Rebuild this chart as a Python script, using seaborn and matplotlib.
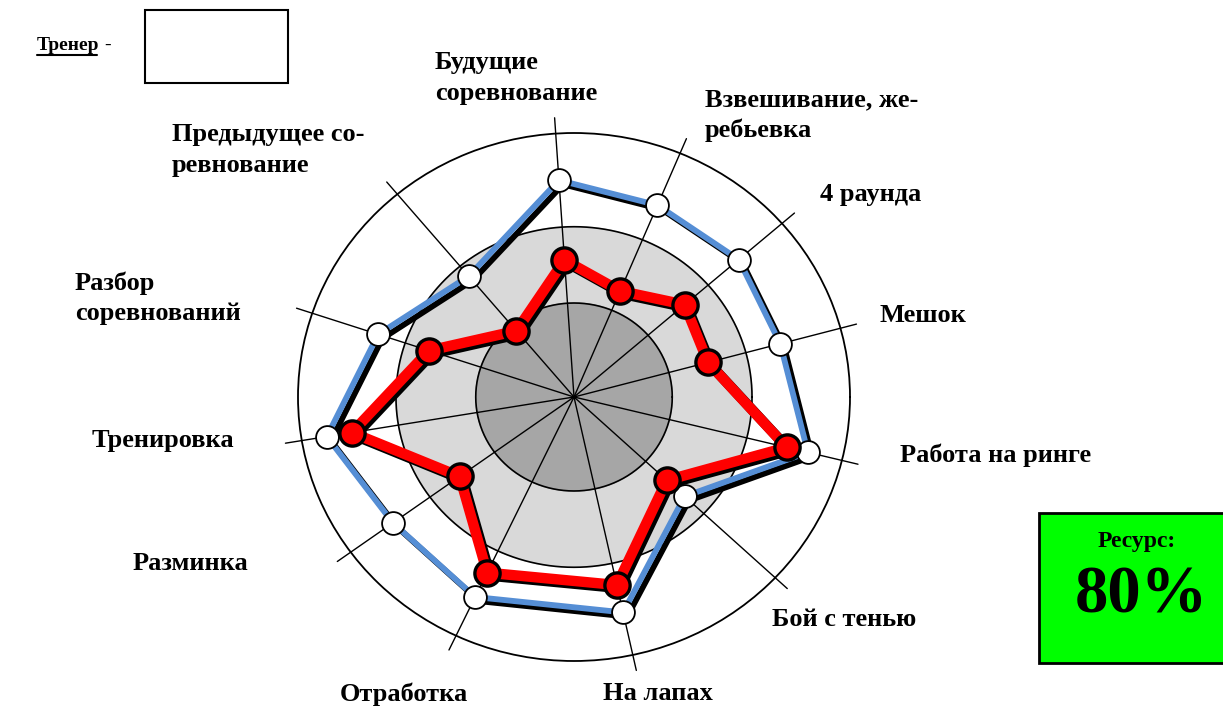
import numpy as np
import pandas as pd
import matplotlib
matplotlib.use("Agg")
import matplotlib.pyplot as plt
import matplotlib.patheffects as pe
from matplotlib.patches import Rectangle
from matplotlib.lines import Line2D
import seaborn as sns

# =========================
# DATA
# =========================
categories = ["Будущие\nсоревнование", "Взвешивание, же-\nребьевка", "4 раунда", "Мешок",
              "Работа на ринге", "Бой с тенью", "На лапах", "Отработка", "Разминка",
              "Тренировка", "Разбор\nсоревнований", "Предыдущее со-\nревнование"]
spoke_deg = [93.8, 67.4, 41.1, 15.1, -13.9, -43.2, -77.7, -115.3, -144.0, -170.5, 161.5, 129.8]
plan = [0.823, 0.787, 0.792, 0.774, 0.873, 0.55, 0.835, 0.838, 0.811, 0.908, 0.748, 0.596]
fact = [0.52, 0.435, 0.532, 0.503, 0.794, 0.461, 0.729, 0.736, 0.512, 0.816, 0.554, 0.326]
inner_ring = 0.356
middle_ring = 0.645
resource = "80%"

# label anchor (left x, vertical centre y) in pixels
label_pos = [(435, 78), (705, 115), (820, 195), (880, 315), (900, 455), (772, 620),
             (603, 694), (340, 694), (133, 563), (92, 440), (75, 298), (172, 150)]

sns.set_theme(style="white")
plt.rcParams['font.family'] = ['Liberation Serif', 'DejaVu Serif']
plt.rcParams['text.color'] = 'black'

W, H = 1223, 706
fig = plt.figure(figsize=(W / 100, H / 100), dpi=100)
cx, cy, rx, ry = 574, 397, 276, 264
ax = fig.add_axes([(cx - rx) / W, 1 - (cy + ry) / H, 2 * rx / W, 2 * ry / H], projection='polar')
ax.set_aspect('auto')

theta = np.deg2rad(spoke_deg)
full = np.linspace(0, 2 * np.pi, 361)

# rings
ax.fill(full, np.full_like(full, middle_ring), color='#d9d9d9', zorder=1)
ax.plot(full, np.full_like(full, middle_ring), color='black', lw=1.2, zorder=1.1)
ax.fill(full, np.full_like(full, inner_ring), color='#a6a6a6', zorder=1.2)
ax.plot(full, np.full_like(full, inner_ring), color='black', lw=1.2, zorder=1.3)

# spokes
for t in theta:
    ax.plot([t, t], [0, 1.06], color='black', lw=1.0, zorder=2, clip_on=False)

df = pd.DataFrame({"theta": np.r_[theta, theta[0]],
                   "plan": np.r_[plan, plan[0]],
                   "fact": np.r_[fact, fact[0]]})

shadow = [pe.SimpleLineShadow(offset=(3, -3), shadow_color='black', alpha=1, rho=1), pe.Normal()]
sns.lineplot(data=df, x="theta", y="plan", sort=False, estimator=None, color='#558ed5',
             lw=4.2, path_effects=shadow, ax=ax, zorder=3)
sns.scatterplot(data=df.iloc[:-1], x="theta", y="plan", s=270, color='white',
                edgecolor='black', linewidth=1.3, ax=ax, zorder=4, clip_on=False)

shadow_r = [pe.SimpleLineShadow(offset=(2.2, -2.2), shadow_color='black', alpha=1, rho=1), pe.Normal()]
sns.lineplot(data=df, x="theta", y="fact", sort=False, estimator=None, color='#ff0000',
             lw=7.5, path_effects=shadow_r, ax=ax, zorder=5)
sns.scatterplot(data=df.iloc[:-1], x="theta", y="fact", s=330, color='#ff0000',
                edgecolor='black', linewidth=2.4, ax=ax, zorder=6, clip_on=False)

ax.set_ylim(0, 1)
ax.set_xticks([])
ax.set_yticks([])
ax.grid(False)
ax.set_xlabel("")
ax.set_ylabel("")
ax.spines['polar'].set_color('black')
ax.spines['polar'].set_linewidth(1.3)
ax.set_facecolor('white')

# category labels
for lab, (x, y) in zip(categories, label_pos):
    fig.text(x / W, 1 - y / H, lab, ha='left', va='center', fontsize=19,
             fontweight='bold', linespacing=1.4)

# trainer header
fig.text(37 / W, 1 - 45 / H, "Тренер", ha='left', va='center', fontsize=14, fontweight='bold')
fig.text(104 / W, 1 - 45 / H, "-", ha='left', va='center', fontsize=14)
fig.add_artist(Line2D([37 / W, 97 / W], [1 - 55 / H, 1 - 55 / H], color='black', lw=1.5))
fig.add_artist(Rectangle((145 / W, 1 - 83 / H), 143 / W, 73 / H, facecolor='white',
                         edgecolor='black', lw=1.5))

# resource box
fig.add_artist(Rectangle((1039 / W, 1 - 663 / H), 190 / W, 150 / H, facecolor='#00ff00',
                         edgecolor='black', lw=2))
fig.text(1137 / W, 1 - 542 / H, "Ресурс:", ha='center', va='center', fontsize=17, fontweight='bold')
fig.text(1141 / W, 1 - 596 / H, resource, ha='center', va='center', fontsize=48, fontweight='bold')

plt.savefig("out.png", dpi=100)
